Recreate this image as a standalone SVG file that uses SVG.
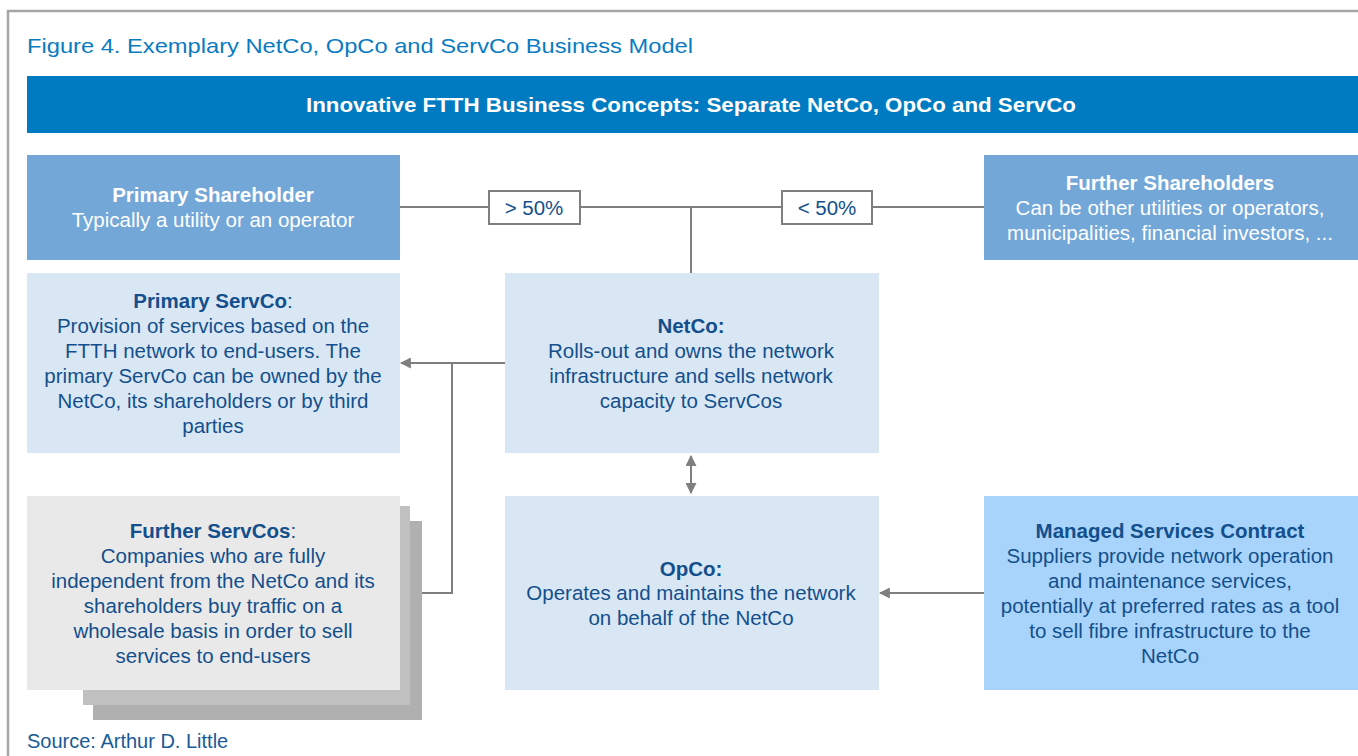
<svg xmlns="http://www.w3.org/2000/svg" width="1358" height="756" viewBox="0 0 1358 756">
<defs>
<style>
text{font-family:"Liberation Sans",Arial,sans-serif;}
.t{font-size:20.5px;fill:#134f8c;text-anchor:middle;}
.tb{font-weight:bold;}
.w{fill:#ffffff;}
.ln{stroke:#7f7f7f;stroke-width:2;fill:none;}
</style>
<marker id="ah" viewBox="0 0 10 10" refX="9" refY="5" markerWidth="11" markerHeight="11" markerUnits="userSpaceOnUse" orient="auto-start-reverse">
<path d="M0,0 L10,5 L0,10 z" fill="#7f7f7f"/>
</marker>
</defs>
<rect width="1358" height="756" fill="#ffffff"/>
<path d="M8,756 V11 H1358" stroke="#a6a6a6" stroke-width="2.5" fill="none"/>
<text x="27" y="53" font-size="21" fill="#0a7bc1" textLength="666" lengthAdjust="spacingAndGlyphs">Figure 4. Exemplary NetCo, OpCo and ServCo Business Model</text>
<g id="header">
<rect x="27" y="76" width="1331" height="57" fill="#007bc1"/>
<text x="691" y="112" font-size="21" font-weight="bold" fill="#ffffff" text-anchor="middle" textLength="770" lengthAdjust="spacingAndGlyphs">Innovative FTTH Business Concepts: Separate NetCo, OpCo and ServCo</text>
</g>
<g id="connectors">
<line class="ln" x1="400" y1="207" x2="984" y2="207"/>
<line class="ln" x1="691" y1="207" x2="691" y2="273"/>
<line class="ln" x1="505" y1="363" x2="401" y2="363" marker-end="url(#ah)"/>
<polyline class="ln" points="452,363 452,593 401,593" marker-end="url(#ah)"/>
<line class="ln" x1="691" y1="456" x2="691" y2="493" marker-start="url(#ah)" marker-end="url(#ah)"/>
<line class="ln" x1="984" y1="593" x2="880" y2="593" marker-end="url(#ah)"/>
<g id="label-gt50">
<rect x="489" y="191" width="91" height="33" fill="#ffffff" stroke="#7f7f7f" stroke-width="2"/>
<text class="t" x="534" y="215">&gt; 50%</text>
</g>
<g id="label-lt50">
<rect x="782" y="191" width="90" height="33" fill="#ffffff" stroke="#7f7f7f" stroke-width="2"/>
<text class="t" x="827" y="215">&lt; 50%</text>
</g>
</g>
<g id="primary-shareholder">
<rect x="27" y="155" width="373" height="105" fill="#72a7d8"/>
<text class="t w tb" x="213" y="202">Primary Shareholder</text>
<text class="t w" x="213" y="227">Typically a utility or an operator</text>
</g>
<g id="further-shareholders">
<rect x="984" y="155" width="374" height="105" fill="#72a7d8"/>
<text class="t w tb" x="1170" y="190">Further Shareholders</text>
<text class="t w" x="1170" y="215">Can be other utilities or operators,</text>
<text class="t w" x="1170" y="240">municipalities, financial investors, ...</text>
</g>
<g id="primary-servco">
<rect x="27" y="273" width="373" height="180" fill="#d9e7f4"/>
<text class="t tb" x="213" y="308">Primary ServCo<tspan font-weight="normal">:</tspan></text>
<text class="t" x="213" y="333">Provision of services based on the</text>
<text class="t" x="213" y="358">FTTH network to end-users. The</text>
<text class="t" x="213" y="383">primary ServCo can be owned by the</text>
<text class="t" x="213" y="408">NetCo, its shareholders or by third</text>
<text class="t" x="213" y="433">parties</text>
</g>
<g id="netco">
<rect x="505" y="273" width="374" height="180" fill="#d9e7f4"/>
<text class="t tb" x="691" y="333">NetCo:</text>
<text class="t" x="691" y="358">Rolls-out and owns the network</text>
<text class="t" x="691" y="383">infrastructure and sells network</text>
<text class="t" x="691" y="408">capacity to ServCos</text>
</g>
<g id="further-servcos">
<rect x="93" y="521" width="329" height="199" fill="#b0b0b0"/>
<rect x="83" y="506" width="327" height="199" fill="#c0c0c0"/>
<rect x="27" y="496" width="373" height="194" fill="#e9e9e9"/>
<text class="t tb" x="213" y="538">Further ServCos<tspan font-weight="normal">:</tspan></text>
<text class="t" x="213" y="563">Companies who are fully</text>
<text class="t" x="213" y="588">independent from the NetCo and its</text>
<text class="t" x="213" y="613">shareholders buy traffic on a</text>
<text class="t" x="213" y="638">wholesale basis in order to sell</text>
<text class="t" x="213" y="663">services to end-users</text>
</g>
<g id="opco">
<rect x="505" y="496" width="374" height="194" fill="#d9e7f4"/>
<text class="t tb" x="691" y="576">OpCo:</text>
<text class="t" x="691" y="600">Operates and maintains the network</text>
<text class="t" x="691" y="625">on behalf of the NetCo</text>
</g>
<g id="managed-services">
<rect x="984" y="496" width="374" height="194" fill="#a8d4fb"/>
<text class="t tb" x="1170" y="538">Managed Services Contract</text>
<text class="t" x="1170" y="563">Suppliers provide network operation</text>
<text class="t" x="1170" y="588">and maintenance services,</text>
<text class="t" x="1170" y="613">potentially at preferred rates as a tool</text>
<text class="t" x="1170" y="638">to sell fibre infrastructure to the</text>
<text class="t" x="1170" y="663">NetCo</text>
</g>
<text x="27" y="748" font-size="20" fill="#1a5a96">Source: Arthur D. Little</text>
</svg>
